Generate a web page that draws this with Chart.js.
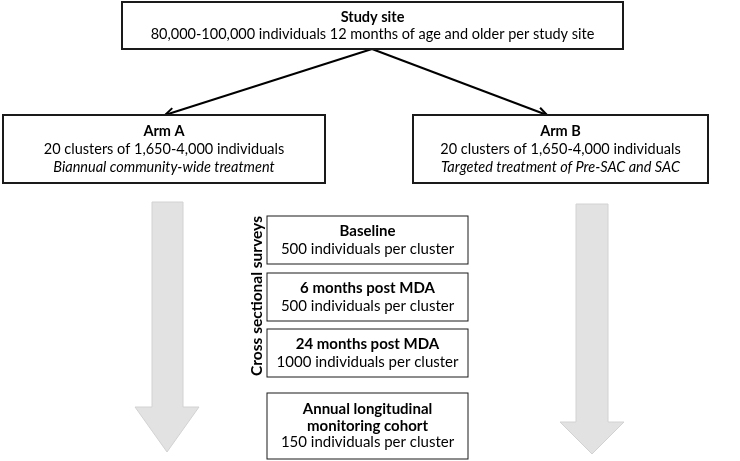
<!DOCTYPE html>
<html>
<head>
<meta charset="utf-8">
<script src="https://cdn.jsdelivr.net/npm/chart.js@4.4.1/dist/chart.umd.min.js"></script>
<style>
  html, body { margin: 0; padding: 0; background: #fff; }
  canvas { display: block; }
</style>
</head>
<body>
<canvas id="flow" width="740" height="461"></canvas>
<script>
'use strict';

// box texts
var boxTitles = ['Study site', 'Arm A', 'Arm B', 'Baseline', '6 months post MDA', '24 months post MDA', 'Annual longitudinal|monitoring cohort'];
var boxLines = [
	'80,000-100,000 individuals 12 months of age and older per study site',
	'20 clusters of 1,650-4,000 individuals',
	'20 clusters of 1,650-4,000 individuals',
	'500 individuals per cluster',
	'500 individuals per cluster',
	'1000 individuals per cluster',
	'150 individuals per cluster'
];
var boxNotes = ['', 'Biannual community-wide treatment', 'Targeted treatment of Pre-SAC and SAC', '', '', '', ''];
var sideLabel = 'Cross sectional surveys';

// layout (in axis units, 0..740 / 0..461)
var boxes = [
	{ x0: 122, x1: 623, y0: 2, y1: 49, w: 2, fs: 14.5, lh: 17 },
	{ x0: 3, x1: 325, y0: 115, y1: 183, w: 2, fs: 14.5, lh: 18 },
	{ x0: 413, x1: 708, y0: 115, y1: 183, w: 2, fs: 14.5, lh: 18 },
	{ x0: 267, x1: 468, y0: 216, y1: 264, w: 1, fs: 15, lh: 18 },
	{ x0: 267, x1: 468, y0: 273, y1: 321, w: 1, fs: 15, lh: 18 },
	{ x0: 267, x1: 468, y0: 329, y1: 377, w: 1, fs: 15, lh: 18 },
	{ x0: 267, x1: 468, y0: 393, y1: 459, w: 1, fs: 15, lh: 16.5 }
];
var links = [[372, 49, 165, 115], [372, 49, 547, 115]];
var bigArrows = [
	{ x0: 152, x1: 183, top: 202, neck: 407, hx0: 135, hx1: 199, tip: 452 },
	{ x0: 576, x1: 608, top: 204, neck: 422, hx0: 560, hx1: 624, tip: 454 }
];

var FONT = 'Lato, "Open Sans", sans-serif';

var flowPlugin = {
	id: 'flow',
	afterDraw: function ( chart ) {
		var ctx = chart.ctx;
		var sx = chart.scales.x, sy = chart.scales.y;
		function X( v ) { return sx.getPixelForValue( v ); }
		function Y( v ) { return sy.getPixelForValue( v ); }

		ctx.save();

		// big gray arrows
		bigArrows.forEach( function ( a ) {
			var cx = ( a.hx0 + a.hx1 ) / 2;
			ctx.beginPath();
			ctx.moveTo( X( a.x0 ), Y( a.top ) );
			ctx.lineTo( X( a.x1 ), Y( a.top ) );
			ctx.lineTo( X( a.x1 ), Y( a.neck ) );
			ctx.lineTo( X( a.hx1 ), Y( a.neck ) );
			ctx.lineTo( X( cx ), Y( a.tip ) );
			ctx.lineTo( X( a.hx0 ), Y( a.neck ) );
			ctx.lineTo( X( a.x0 ), Y( a.neck ) );
			ctx.closePath();
			ctx.fillStyle = '#e2e2e2';
			ctx.fill();
			ctx.strokeStyle = '#d2d2d2';
			ctx.lineWidth = 1;
			ctx.stroke();
		} );

		// connectors
		ctx.strokeStyle = '#000';
		ctx.lineWidth = 2;
		links.forEach( function ( l ) {
			var x0 = X( l[0] ), y0 = Y( l[1] ), x1 = X( l[2] ), y1 = Y( l[3] );
			ctx.beginPath();
			ctx.moveTo( x0, y0 );
			ctx.lineTo( x1, y1 );
			ctx.stroke();
			var ang = Math.atan2( y1 - y0, x1 - x0 ), len = 10, spread = 0.45;
			ctx.beginPath();
			ctx.moveTo( x1 - len * Math.cos( ang - spread ), y1 - len * Math.sin( ang - spread ) );
			ctx.lineTo( x1, y1 );
			ctx.lineTo( x1 - len * Math.cos( ang + spread ), y1 - len * Math.sin( ang + spread ) );
			ctx.stroke();
		} );

		// boxes
		ctx.textAlign = 'center';
		ctx.textBaseline = 'middle';
		boxes.forEach( function ( b, i ) {
			var x0 = X( b.x0 ), x1 = X( b.x1 ), y0 = Y( b.y0 ), y1 = Y( b.y1 );
			ctx.fillStyle = '#fff';
			ctx.fillRect( x0, y0, x1 - x0, y1 - y0 );
			ctx.strokeStyle = '#1a1a1a';
			ctx.lineWidth = b.w;
			ctx.strokeRect( x0, y0, x1 - x0, y1 - y0 );

			var rows = [];
			boxTitles[i].split( '|' ).forEach( function ( t ) { rows.push( { t: t, f: 'bold ' + b.fs + 'px ' + FONT } ); } );
			rows.push( { t: boxLines[i], f: b.fs + 'px ' + FONT } );
			if ( boxNotes[i] ) {
				rows.push( { t: boxNotes[i], f: 'italic ' + b.fs + 'px ' + FONT } );
			}
			var cx = ( x0 + x1 ) / 2;
			var startY = ( y0 + y1 ) / 2 - ( rows.length - 1 ) * b.lh / 2;
			ctx.fillStyle = '#000';
			rows.forEach( function ( r, k ) {
				ctx.font = r.f;
				ctx.fillText( r.t, cx, startY + k * b.lh );
			} );
		} );

		// rotated side label
		ctx.save();
		ctx.translate( X( 257 ), Y( 296 ) );
		ctx.rotate( -Math.PI / 2 );
		ctx.font = 'bold 15.5px ' + FONT;
		ctx.fillStyle = '#000';
		ctx.fillText( sideLabel, 0, 0 );
		ctx.restore();

		ctx.restore();
	}
};

new Chart( document.getElementById( 'flow' ), {
	type: 'scatter',
	data: { datasets: [ { data: [] } ] },
	options: {
		responsive: false,
		animation: false,
		devicePixelRatio: 1,
		layout: { padding: 0 },
		plugins: { legend: { display: false }, tooltip: { enabled: false } },
		scales: {
			x: { type: 'linear', min: 0, max: 740, display: false },
			y: { type: 'linear', min: 0, max: 461, reverse: true, display: false }
		}
	},
	plugins: [ flowPlugin ]
} );
</script>
</body>
</html>
